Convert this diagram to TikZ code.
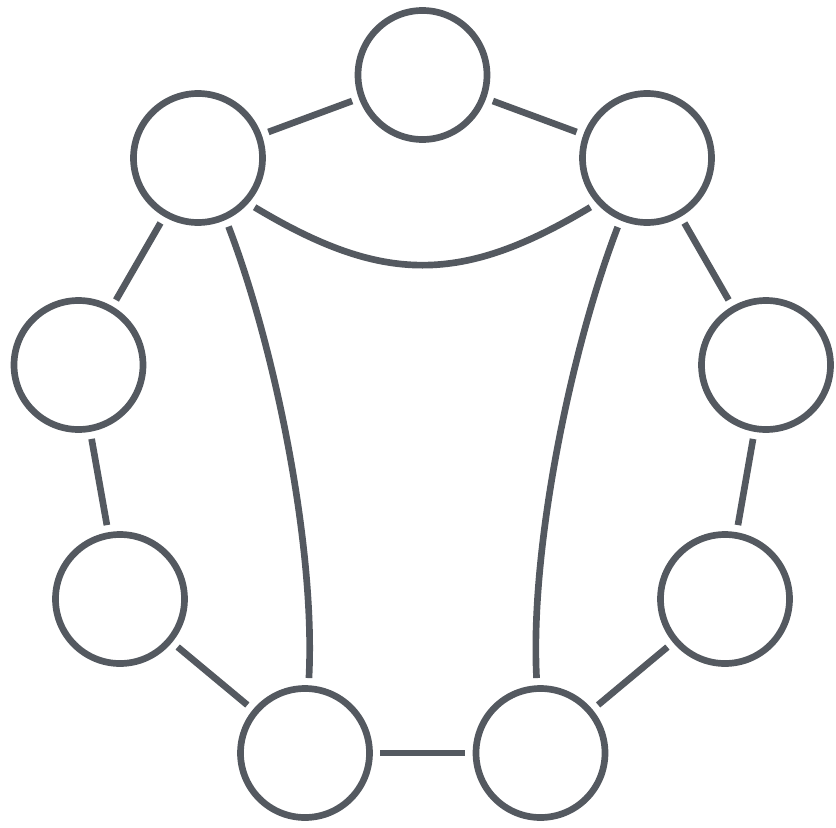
\documentclass[tikz,border=0pt]{standalone}
\usepackage{xcolor}
\definecolor{ringgray}{RGB}{84,89,96}
\usepackage{tikz}
\usetikzlibrary{
  arrows.meta,
  calc
}
\tikzset{
  ring/.style={draw=ringgray, circle, line width=5pt, fill=white,
    minimum size=96.75pt, inner sep=0pt, outer sep=7.9pt},
  link/.style={draw=ringgray, line width=5pt},
}

\begin{document}
\begin{tikzpicture}[x=0.75pt, y=0.75pt]
  \useasboundingbox (0,0) rectangle (836,-828);

  % Ring of nodes
  \node[ring] (top) at (422.5,-75) {};
  \node[ring] (ul)  at (198,-158) {};
  \node[ring] (ur)  at (647,-158) {};
  \node[ring] (l)   at (78.5,-365) {};
  \node[ring] (r)   at (766,-365) {};
  \node[ring] (ll)  at (120,-599) {};
  \node[ring] (lr)  at (725,-599) {};
  \node[ring] (bl)  at (305,-753) {};
  \node[ring] (br)  at (540.5,-753) {};

  % Outer links
  \draw[link] (top) -- (ul);
  \draw[link] (top) -- (ur);
  \draw[link] (ul) -- (l);
  \draw[link] (l) -- (ll);
  \draw[link] (ll) -- (bl);
  \draw[link] (bl) -- (br);
  \draw[link] (br) -- (lr);
  \draw[link] (lr) -- (r);
  \draw[link] (r) -- (ur);

  % Inner curves
  \draw[link] (ul.-41) .. controls +(-31:150) and +(-149:150) .. (ur.-139);
  \draw[link] (ul.-66.5) .. controls +(-69:130) and +(87:130) .. (bl.87);
  \draw[link] (ur.-113.5) .. controls +(-111:130) and +(93:130) .. (br.93);
\end{tikzpicture}
\end{document}
